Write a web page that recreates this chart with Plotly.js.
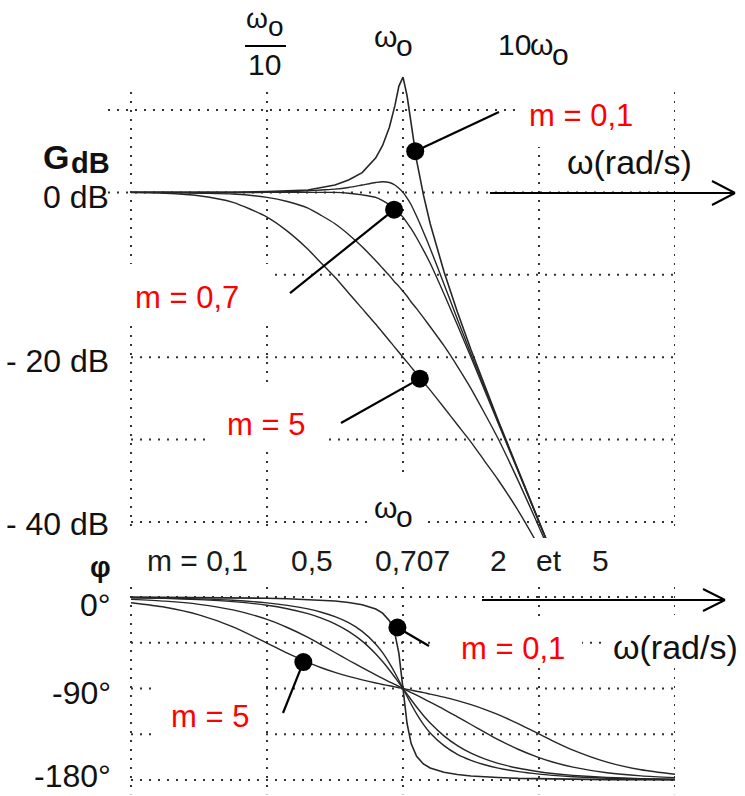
<!DOCTYPE html>
<html>
<head>
<meta charset="utf-8">
<script src="https://cdn.plot.ly/plotly-3.0.1.min.js"></script>
<style>
  html, body { margin: 0; padding: 0; background: #fff; }
  #chart { width: 745px; height: 796px; }
</style>
</head>
<body>
<div id="chart"></div>
<script>
// Normalised pulsation u = ω / ω0
const ratio = [0.01, 0.0178, 0.0316, 0.0562, 0.1, 0.141, 0.2, 0.251, 0.316, 0.398,
  0.501, 0.631, 0.708, 0.794, 0.871, 0.933, 1, 1.072, 1.148, 1.259, 1.413, 1.585,
  2, 2.512, 3.162, 3.981, 5.012, 7.079, 10, 12.59, 17.78, 31.62, 56.23, 100];

// Gain (dB) of the second-order low-pass for each damping ratio m
const gainM01 = [0, 0, 0, 0, 0.1, 0.2, 0.3, 0.6, 0.9, 1.5, 2.4, 4.2, 5.7, 7.9, 10.5, 12.9,
  14.0, 11.7, 8.1, 3.9, -0.3, -3.8, -9.6, -14.5, -19.1, -23.4, -27.7, -33.8, -39.9, -44.0];
const gainM05 = [0, 0, 0, 0, 0, 0.1, 0.2, 0.3, 0.4, 0.6, 0.9, 1.2, 1.3, 1.2, 0.9, 0.5,
  0, -0.7, -1.5, -2.9, -4.8, -6.8, -11.1, -15.4, -19.6, -23.7, -27.8, -33.9, -40.0, -44.0];
const gainM07 = [0, 0, 0, 0, 0, 0, 0, 0, 0, -0.1, -0.3, -0.6, -1.0, -1.5, -2.0, -2.5,
  -3.0, -3.7, -4.4, -5.5, -7.0, -8.6, -12.3, -16.1, -20.0, -24.0, -28.0, -34.0, -40.0, -44.0];
const gainM2 = [0, 0, -0.1, -0.2, -0.6, -1.1, -1.9, -2.8, -3.8, -5.1, -6.6, -8.3, -9.2, -10.1,
  -10.9, -11.4, -12.0, -12.6, -13.3, -14.1, -15.2, -16.3, -18.6, -21.1, -23.8, -26.8, -29.9,
  -35.1, -40.6, -44.4];
const gainM5 = [0, -0.1, -0.4, -1.2, -3.0, -4.7, -6.9, -8.6, -10.3, -12.2, -14.1, -16.0,
  -17.0, -18.0, -18.8, -19.4, -20.0, -20.6, -21.2, -22.0, -23.0, -24.0, -26.1, -28.2, -30.3,
  -32.6, -34.9, -38.7, -43.0, -46.1];

// Phase (degrees)
const phaseM01 = [-0.1, -0.2, -0.4, -0.6, -1.2, -1.7, -2.4, -3.1, -4.0, -5.4, -7.6, -11.8,
  -15.9, -23.3, -35.8, -55.4, -90, -124.7, -144.2, -156.7, -164.2, -168.2, -172.4, -174.6,
  -176.0, -176.9, -177.6, -178.4, -178.8, -179.1, -179.4, -179.6, -179.8, -179.9];
const phaseM05 = [-0.6, -1.0, -1.8, -3.2, -5.8, -8.2, -11.7, -15.0, -19.4, -25.3, -33.8,
  -46.4, -54.8, -65.1, -74.5, -82.1, -90, -97.9, -105.5, -114.9, -125.2, -133.7, -146.2,
  -154.7, -160.6, -165.0, -168.3, -171.8, -174.2, -175.4, -176.8, -178.2, -179.0, -179.4];
const phaseM07 = [-0.8, -1.4, -2.6, -4.6, -8.1, -11.5, -16.4, -20.8, -26.4, -33.8, -43.4,
  -56.0, -63.5, -71.8, -78.9, -84.4, -90, -95.6, -101.1, -108.2, -116.5, -124.0, -136.6,
  -146.2, -153.6, -159.2, -163.6, -168.5, -171.9, -173.6, -175.4, -177.4, -178.6, -179.2];
const phaseM2 = [-2.3, -4.1, -7.2, -12.7, -22.0, -30.0, -39.7, -47.0, -54.6, -62.2, -69.5,
  -76.6, -80.0, -83.4, -86.0, -88.0, -90, -92.0, -94.0, -96.6, -100.0, -103.4, -110.5,
  -117.9, -125.4, -133.0, -140.3, -150.0, -158.0, -162.3, -167.3, -172.8, -175.9, -177.7];
const phaseM5 = [-5.7, -10.1, -17.6, -29.4, -45.3, -55.3, -64.3, -69.6, -74.1, -78.1, -81.5,
  -84.6, -86.0, -87.3, -88.4, -89.2, -90, -90.8, -91.6, -92.7, -94.0, -95.5, -98.5, -101.9,
  -105.9, -110.5, -115.7, -124.8, -134.7, -141.4, -150.6, -162.4, -169.9, -174.3];

// Damping ratios listed above the phase plot
const dampingList = ['m = 0,1', '0,5', '0,707', '2', 'et', '5'];

// Tick values and labels
const gainTicks = [0, -20, -40];
const gainTickText = ['0 dB', '- 20 dB', '- 40 dB'];
const phaseTicks = [0, -90, -180];
const phaseTickText = ['0°', '-90°', '-180°'];
const decadeGrid = [0.01, 0.1, 1, 10, 100];
const gainGrid = [10, 0, -10, -20, -30, -40];
const phaseGrid = [0, -45, -90, -135, -180];

// Highlighted points on the curves
const gainMarkU = [1.23, 0.86, 1.33];
const gainMarkDb = [5.0, -2.1, -22.6];
const gainMarkText = ['m = 0,1', 'm = 0,7', 'm = 5'];
const phaseMarkU = [0.91, 0.185];
const phaseMarkDeg = [-30, -64];
const phaseMarkText = ['m = 0,1', 'm = 5'];

// ---------- geometry helpers (figure pixels -> paper / data) ----------
const W = 745, H = 796;
const px = x => x / W;
const py = y => 1 - y / H;
const xRange = [-2.16912, 2];            // 136 px per decade, u = 1 at x = 403
const gainRange = [-41.94, 16.07];       // 8.24 px per dB, 0 dB at y = 192.4
const phaseRange = [-195.73, 11.8];      // 1.0167 px per degree, 0° at y = 597
const uAt = x => Math.pow(10, (x - 403) / 136);
const dbAt = y => 10 - (y - 110) / 8.24;
const degAt = y => -(y - 597) / 1.01672;

const FONT = 'Liberation Sans, Arial, Helvetica, sans-serif';
const INK = '#111';
const CURVE = '#262626';

// ---------- traces ----------
function curve(y, xa, ya, sharp) {
  return {
    x: ratio.slice(0, y.length), y: y, xaxis: xa, yaxis: ya,
    mode: 'lines', hoverinfo: 'skip',
    line: { color: CURVE, width: sharp ? 1.6 : 1.4, shape: sharp ? 'linear' : 'spline', smoothing: 0.7 }
  };
}
const traces = [
  curve(gainM01, 'x', 'y', true), curve(gainM05, 'x', 'y'), curve(gainM07, 'x', 'y'),
  curve(gainM2, 'x', 'y'), curve(gainM5, 'x', 'y'),
  curve(phaseM01, 'x2', 'y2', true), curve(phaseM05, 'x2', 'y2'), curve(phaseM07, 'x2', 'y2'),
  curve(phaseM2, 'x2', 'y2'), curve(phaseM5, 'x2', 'y2'),
  { x: gainMarkU, y: gainMarkDb, xaxis: 'x', yaxis: 'y', mode: 'markers', hoverinfo: 'skip',
    marker: { size: 18, color: '#000' } },
  { x: phaseMarkU, y: phaseMarkDeg, xaxis: 'x2', yaxis: 'y2', mode: 'markers', hoverinfo: 'skip',
    marker: { size: 18, color: '#000' } }
];

// ---------- dotted grid ----------
const shapes = [];
const gridLine = { color: '#333', width: 2, dash: '2px,7px' };
const xLeft = Math.pow(10, xRange[0]);
decadeGrid.forEach(t => {
  shapes.push({ type: 'line', xref: 'x', yref: 'y', x0: t, x1: t, y0: 12.18, y1: -41.2, line: gridLine, layer: 'below' });
  shapes.push({ type: 'line', xref: 'x2', yref: 'y2', x0: t, x1: t, y0: 9.8, y1: -194, line: gridLine, layer: 'below' });
});
gainGrid.forEach(v => {
  shapes.push({ type: 'line', xref: 'x', yref: 'y', x0: v >= 0 ? xLeft : 0.01, x1: 100, y0: v, y1: v, line: gridLine, layer: 'below' });
});
phaseGrid.forEach(v => {
  shapes.push({ type: 'line', xref: 'x2', yref: 'y2', x0: 0.01, x1: 100, y0: v, y1: v, line: gridLine, layer: 'below' });
});

// white boxes behind the labels, interrupting the grid
[[519, 92, 672, 147], [120, 264, 271, 326], [210, 389, 323, 451], [373, 476, 426, 535]].forEach(b => {
  shapes.push({ type: 'rect', xref: 'x', yref: 'y', x0: uAt(b[0]), x1: uAt(b[2]), y0: dbAt(b[3]), y1: dbAt(b[1]),
    fillcolor: '#fff', line: { width: 0 }, layer: 'below' });
});
[[158, 680, 264, 745], [432, 620, 582, 664], [607, 615, 745, 668]].forEach(b => {
  shapes.push({ type: 'rect', xref: 'x2', yref: 'y2', x0: uAt(b[0]), x1: uAt(b[2]), y0: degAt(b[3]), y1: degAt(b[1]),
    fillcolor: '#fff', line: { width: 0 }, layer: 'below' });
});

// pointer lines from the highlighted points to their labels
const pointerPen = { color: '#000', width: 2.2 };
const gainTailPx = [[499, 112], [290, 293], [341, 423]];
gainMarkU.forEach((u, i) => shapes.push({ type: 'line', xref: 'x', yref: 'y', x0: u, y0: gainMarkDb[i],
  x1: uAt(gainTailPx[i][0]), y1: dbAt(gainTailPx[i][1]), line: pointerPen, layer: 'above' }));
const phaseTailPx = [[429, 646], [283, 713]];
phaseMarkU.forEach((u, i) => shapes.push({ type: 'line', xref: 'x2', yref: 'y2', x0: u, y0: phaseMarkDeg[i],
  x1: uAt(phaseTailPx[i][0]), y1: degAt(phaseTailPx[i][1]), line: pointerPen, layer: 'above' }));

// axis arrows and the fraction bar of ω0/10
const axisPen = { color: '#000', width: 2 };
function seg(x0, y0, x1, y1) {
  shapes.push({ type: 'line', xref: 'paper', yref: 'paper', x0: px(x0), y0: py(y0), x1: px(x1), y1: py(y1), line: axisPen, layer: 'above' });
}
seg(490, 193, 735, 193); seg(712, 181, 735, 193); seg(712, 205, 735, 193);
seg(482, 600, 725, 600); seg(703, 589, 725, 600); seg(703, 611, 725, 600);
seg(245, 46, 286, 46);

// ---------- annotations ----------
const ann = [];
function label(text, x, y, size, color, extra) {
  ann.push(Object.assign({ text: text, xref: 'paper', yref: 'paper', x: px(x), y: py(y),
    xanchor: 'center', yanchor: 'middle', showarrow: false,
    font: { family: FONT, size: size, color: color || INK } }, extra || {}));
}
// ω0 written as omega followed by a lowered "o"
function omega0(x, y, size) {
  label('ω', x, y, size);
  label('o', x + 19, y + 9, size);
}
// frequency ticks above the gain plot: ω0/10, ω0, 10ω0
omega0(257, 18, 28);
label('10', 264, 64, 30);
omega0(385, 37, 30);
label('10', 514, 44, 30);
omega0(541, 45, 30);
// ω0 above the phase plot
omega0(385, 507, 30);
// value ticks
const gainShift = [-5, -4, -2];
gainTicks.forEach((v, i) => label(gainTickText[i], 111, 0, 32, INK,
  { xanchor: 'right', yref: 'y', y: v, yshift: gainShift[i] }));
const phaseShift = [-8, -4, 4];
phaseTicks.forEach((v, i) => label(phaseTickText[i], 113, 0, 32, INK,
  { xanchor: 'right', yref: 'y2', y: v, yshift: phaseShift[i] }));
// axis names
label('<b>G</b>', 41, 157, 34, INK, { xanchor: 'left' });
label('<b>dB</b>', 69, 163, 29, INK, { xanchor: 'left' });
label('<b>φ</b>', 100, 567, 29, INK);
label('ω(rad/s)', 565, 162, 34, INK, { xanchor: 'left' });
label('ω(rad/s)', 611, 647, 34, INK, { xanchor: 'left' });
// damping ratios row
const rowX = [197, 312, 412, 498, 549, 600];
dampingList.forEach((t, i) => label(t, rowX[i], 560, 30, '#1a1a1a'));
// call-out labels
const RED = '#ff0000';
const gainLabelPos = [[581, 116], [187, 297], [266, 425]];
gainMarkText.forEach((t, i) => label(t, gainLabelPos[i][0], gainLabelPos[i][1], 31, RED));
const phaseLabelPos = [[513, 648], [210, 716]];
phaseMarkText.forEach((t, i) => label(t, phaseLabelPos[i][0], phaseLabelPos[i][1], 31, RED));

// ---------- layout ----------
const hidden = { showgrid: false, zeroline: false, showline: false, showticklabels: false, ticks: '' };
const layout = {
  width: W, height: H,
  margin: { l: 0, r: 0, t: 0, b: 0 },
  paper_bgcolor: '#fff', plot_bgcolor: 'rgba(0,0,0,0)',
  showlegend: false, hovermode: false,
  font: { family: FONT, size: 30, color: INK },
  xaxis: Object.assign({ type: 'log', domain: [px(108), px(675)], range: xRange, anchor: 'y' }, hidden),
  yaxis: Object.assign({ domain: [py(538), py(60)], range: gainRange, anchor: 'x' }, hidden),
  xaxis2: Object.assign({ type: 'log', domain: [px(108), px(675)], range: xRange, anchor: 'y2' }, hidden),
  yaxis2: Object.assign({ domain: [0, py(585)], range: phaseRange, anchor: 'x2' }, hidden),
  shapes: shapes,
  annotations: ann
};

Plotly.newPlot('chart', traces, layout, { staticPlot: true, displayModeBar: false });
</script>
</body>
</html>
